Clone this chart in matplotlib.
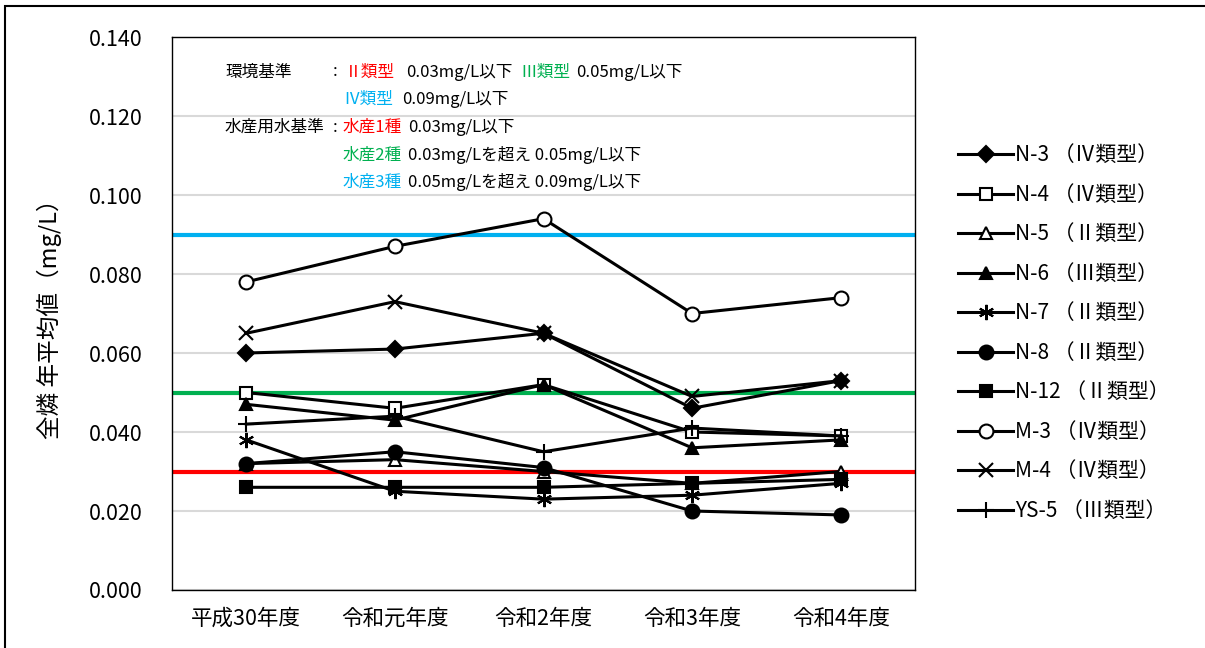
import numpy as np
import matplotlib
matplotlib.use("Agg")
from matplotlib import pyplot as plt
from matplotlib.patches import Rectangle

plt.rcParams['font.family'] = ['Noto Sans CJK JP', 'DejaVu Sans']

# data
years = ['平成30年度', '令和元年度', '令和2年度', '令和3年度', '令和4年度']
names = ['N-3 （Ⅳ類型）', 'N-4 （Ⅳ類型）', 'N-5 （Ⅱ類型）', 'N-6 （Ⅲ類型）', 'N-7 （Ⅱ類型）',
         'N-8 （Ⅱ類型）', 'N-12 （Ⅱ類型）', 'M-3 （Ⅳ類型）', 'M-4 （Ⅳ類型）', 'YS-5 （Ⅲ類型）']
n3 = [0.060, 0.061, 0.065, 0.046, 0.053]
n4 = [0.050, 0.046, 0.052, 0.040, 0.039]
n5 = [0.032, 0.033, 0.030, 0.027, 0.030]
n6 = [0.047, 0.043, 0.052, 0.036, 0.038]
n7 = [0.038, 0.025, 0.023, 0.024, 0.027]
n8 = [0.032, 0.035, 0.031, 0.020, 0.019]
n12 = [0.026, 0.026, 0.026, 0.027, 0.028]
m3 = [0.078, 0.087, 0.094, 0.070, 0.074]
m4 = [0.065, 0.073, 0.065, 0.049, 0.053]
ys5 = [0.042, 0.044, 0.035, 0.041, 0.039]
series = [n3, n4, n5, n6, n7, n8, n12, m3, m4, ys5]

std_vals = [0.09, 0.05, 0.03]
std_colors = ['#00B0F0', '#00B050', '#FF0000']
yticks = np.arange(0, 0.141, 0.02)

# marker, face colour, size
mk = [('D', 'black', 8), ('s', 'white', 9), ('^', 'white', 9), ('^', 'black', 9),
      ((6, 2, 0), 'black', 11), ('o', 'black', 10), ('s', 'black', 9),
      ('o', 'white', 10), ('x', 'black', 10), ('+', 'black', 12)]

W, H = 1205, 648
fig = plt.figure(figsize=(W / 100, H / 100), dpi=100)
ax = fig.add_axes([172 / W, 1 - 590 / H, (915 - 172) / W, (590 - 37) / H])

x = np.arange(len(years))
for v, c in zip(std_vals, std_colors):
    ax.axhline(v, color=c, lw=3, zorder=2)

handles = []
for s, name, (m, fc, ms) in zip(series, names, mk):
    h, = ax.plot(x, s, color='black', lw=2.2, marker=m, markersize=ms,
                 markerfacecolor=fc, markeredgecolor='black', markeredgewidth=1.5,
                 label=name, zorder=3)
    handles.append(h)

ax.set_xlim(-0.5, 4.5)
ax.set_ylim(0, 0.14)
ax.set_yticks(yticks)
ax.set_yticklabels([f'{v:.3f}' for v in yticks], fontsize=15.5)
ax.set_xticks(x)
ax.set_xticklabels(years, fontsize=15.5)
ax.tick_params(length=0, pad=13)
ax.tick_params(axis='y', pad=21)
ax.yaxis.grid(True, color='#D9D9D9', lw=1.5)
ax.set_axisbelow(True)
for sp in ax.spines.values():
    sp.set_linewidth(1.0)
ax.set_ylabel('全燐 年平均値（mg/L）', fontsize=17)
ax.yaxis.set_label_coords(-0.148, 0.5)

fig.legend(handles=handles, loc='upper left', bbox_to_anchor=(948 / W, 1 - 134 / H),
           frameon=False, fontsize=15, labelspacing=0.84, handlelength=2.6,
           handletextpad=0.12, borderpad=0)


def t(px, py, s, c='black'):
    fig.text(px / W, 1 - py / H, s, color=c, fontsize=12, va='center', ha='left')


t(225, 72, '環境基準')
t(333, 72, ':')
t(345, 72, 'Ⅱ類型', '#FF0000')
t(406, 72, '0.03mg/L以下')
t(520, 72, 'Ⅲ類型', '#00B050')
t(576, 72, '0.05mg/L以下')
t(343, 99, 'Ⅳ類型', '#00B0F0')
t(402, 99, '0.09mg/L以下')
t(225, 127, '水産用水基準')
t(333, 127, ':')
t(343, 127, '水産1種', '#FF0000')
t(408, 127, '0.03mg/L以下')
t(343, 155, '水産2種', '#00B050')
t(408, 155, '0.03mg/Lを超え 0.05mg/L以下')
t(343, 182, '水産3種', '#00B0F0')
t(408, 182, '0.05mg/Lを超え 0.09mg/L以下')

# outer frame
fig.patches.append(Rectangle((5 / W, -0.05), 1.1, 1 - 6 / H + 0.05,
                             transform=fig.transFigure, fill=False,
                             edgecolor='black', lw=1.5))

fig.savefig('out.png', dpi=100)
